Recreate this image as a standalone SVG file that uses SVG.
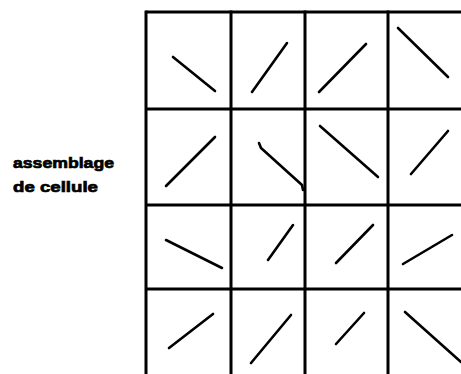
<svg xmlns="http://www.w3.org/2000/svg" width="461" height="374" viewBox="0 0 461 374">
<style>
.grid{stroke:#000;stroke-width:3;fill:none}
.s{stroke:#000;stroke-width:2.6;stroke-linecap:round;fill:none}
.lbl{font-family:"Liberation Sans",Arial,sans-serif;font-weight:bold;font-size:15px;fill:#000;stroke:#000;stroke-width:0.7}
</style>
<rect width="461" height="374" fill="#fff"/>
<g id="label">
<text class="lbl" x="13" y="168" textLength="101" lengthAdjust="spacingAndGlyphs">assemblage</text>
<text class="lbl" x="13" y="192" textLength="85" lengthAdjust="spacingAndGlyphs">de cellule</text>
</g>
<g id="grid" class="grid">
<line x1="146" y1="12" x2="461" y2="12"/>
<line x1="146" y1="109" x2="461" y2="109"/>
<line x1="146" y1="205" x2="461" y2="205"/>
<line x1="146" y1="289" x2="461" y2="289"/>
<line x1="146" y1="10.5" x2="146" y2="374"/>
<line x1="231" y1="10.5" x2="231" y2="374"/>
<line x1="305" y1="10.5" x2="305" y2="374"/>
<line x1="388" y1="10.5" x2="388" y2="374"/>
</g>
<g id="cells">
<g id="c00"><line class="s" x1="173" y1="57" x2="215" y2="91"/></g>
<g id="c01"><line class="s" x1="252" y1="92" x2="287" y2="43"/></g>
<g id="c02"><line class="s" x1="319" y1="92" x2="366" y2="44"/></g>
<g id="c03"><line class="s" x1="398" y1="28" x2="448" y2="77"/></g>
<g id="c10"><line class="s" x1="166" y1="186" x2="215" y2="137"/></g>
<g id="c11"><polyline class="s" points="259,143 261,148 302,185 303,190"/></g>
<g id="c12"><line class="s" x1="320" y1="126" x2="378" y2="177"/></g>
<g id="c13"><line class="s" x1="411" y1="174" x2="448" y2="131"/></g>
<g id="c20"><line class="s" x1="166" y1="240" x2="222" y2="268"/></g>
<g id="c21"><line class="s" x1="268" y1="260" x2="293" y2="225"/></g>
<g id="c22"><line class="s" x1="336" y1="263" x2="373" y2="225"/></g>
<g id="c23"><line class="s" x1="403" y1="264" x2="452" y2="235"/></g>
<g id="c30"><line class="s" x1="169" y1="348" x2="213" y2="314"/></g>
<g id="c31"><line class="s" x1="251" y1="363" x2="291" y2="315"/></g>
<g id="c32"><line class="s" x1="336" y1="344" x2="364" y2="313"/></g>
<g id="c33"><line class="s" x1="405" y1="312" x2="461" y2="362"/></g>
</g>
</svg>
